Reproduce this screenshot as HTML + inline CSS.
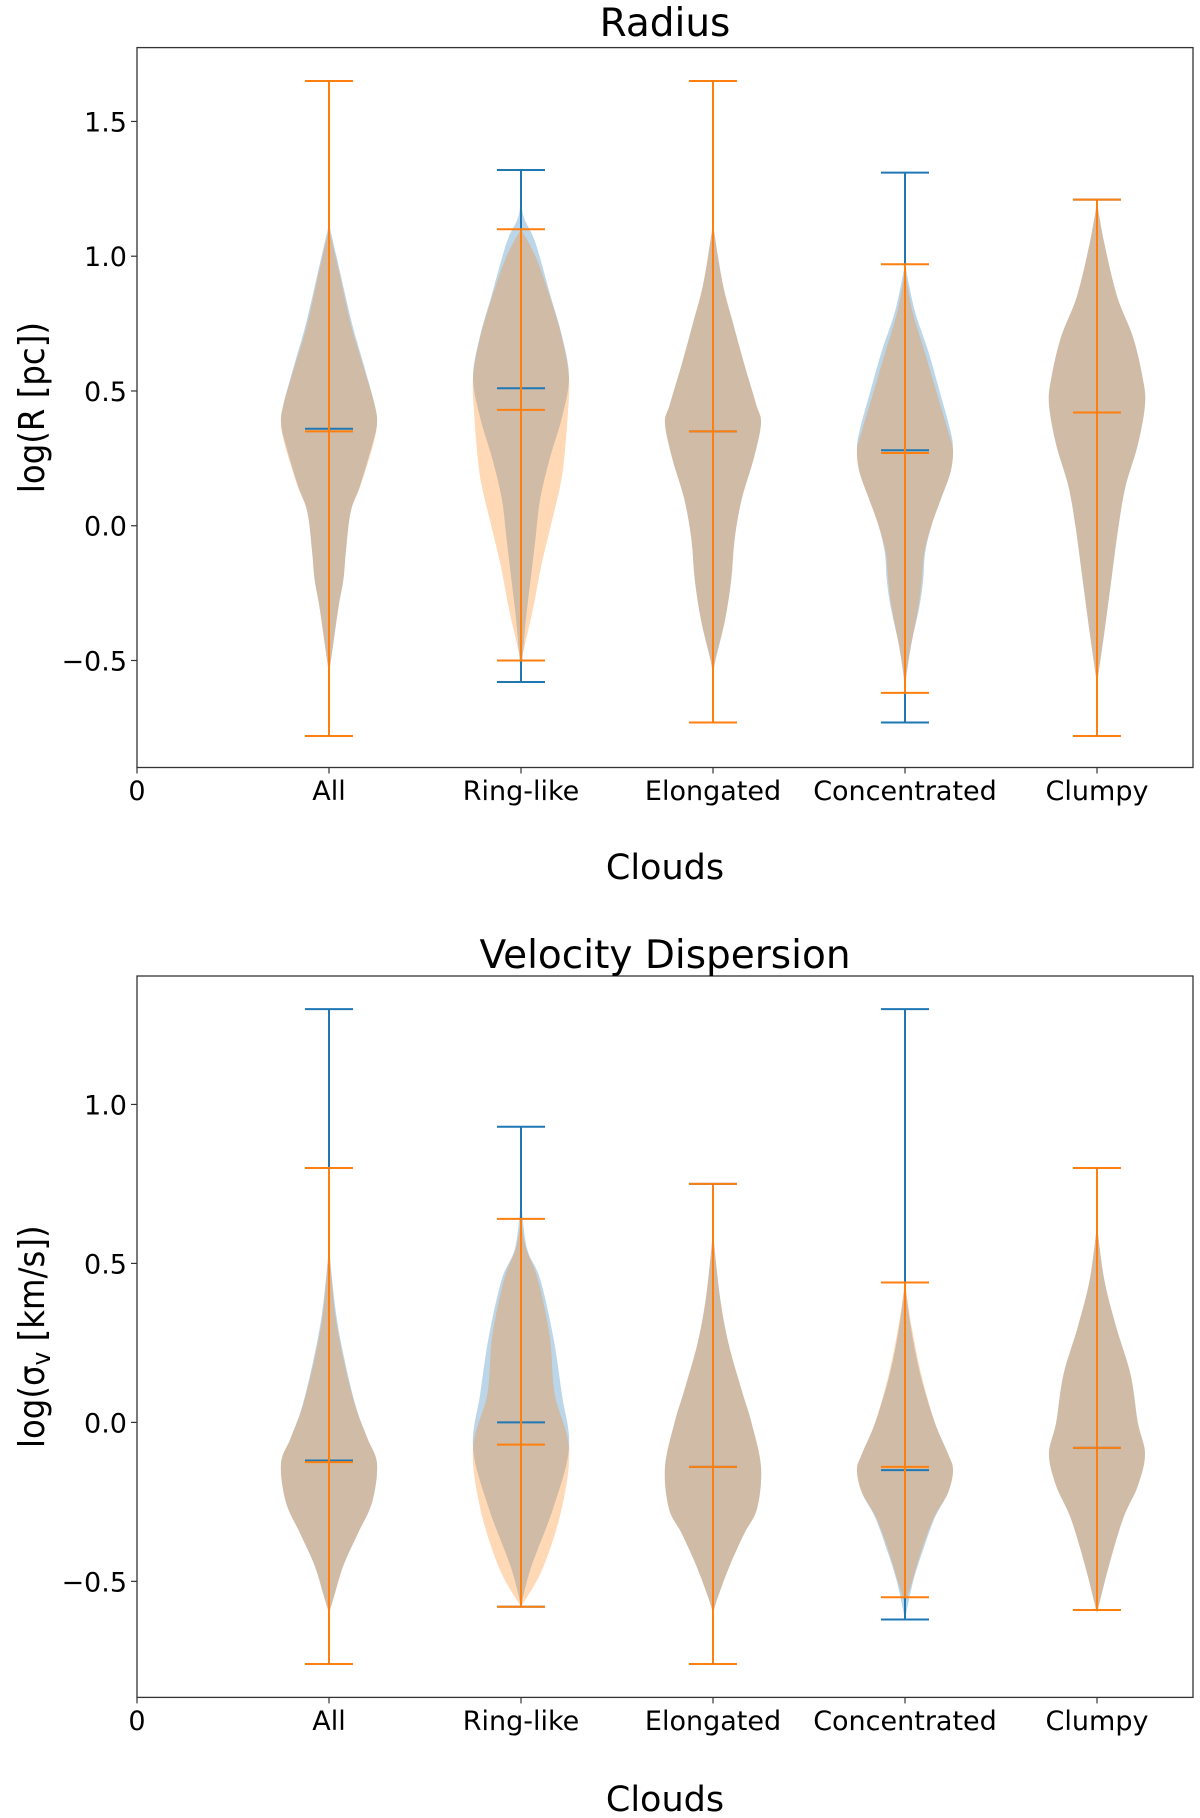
<!DOCTYPE html>
<html><head><meta charset="utf-8"><style>
html,body{margin:0;padding:0;background:#fff;}
svg{display:block;font-family:"DejaVu Sans","Liberation Sans",sans-serif;}
.cond{font-family:"DejaVu Sans Condensed","DejaVu Sans","Liberation Sans Narrow",sans-serif;font-stretch:condensed;}
</style></head><body>
<svg id="fig" width="1200" height="1818" viewBox="0 0 1200 1818" xmlns="http://www.w3.org/2000/svg"></svg>
<script>
// ---------- data ----------
const categories = ["All","Ring-like","Elongated","Concentrated","Clumpy"];
const xTickLabels = ["0","All","Ring-like","Elongated","Concentrated","Clumpy"];
const radiusYTicks = [-0.5,0.0,0.5,1.0,1.5];
const sigmaYTicks = [-0.5,0.0,0.5,1.0];

// Radius: min / max / mean per category
const rBlueMin  = [-0.78,-0.58,-0.73,-0.73,-0.78];
const rBlueMax  = [1.65,1.32,1.65,1.31,1.21];
const rBlueMean = [0.36,0.51,0.35,0.28,0.42];
const rOrangeMin  = [-0.78,-0.50,-0.73,-0.62,-0.78];
const rOrangeMax  = [1.65,1.10,1.65,0.97,1.21];
const rOrangeMean = [0.35,0.43,0.35,0.27,0.42];

// Velocity dispersion
const sBlueMin  = [-0.76,-0.58,-0.76,-0.62,-0.59];
const sBlueMax  = [1.30,0.93,0.75,1.30,0.80];
const sBlueMean = [-0.12,0.00,-0.14,-0.15,-0.08];
const sOrangeMin  = [-0.76,-0.58,-0.76,-0.55,-0.59];
const sOrangeMax  = [0.80,0.64,0.75,0.44,0.80];
const sOrangeMean = [-0.125,-0.07,-0.14,-0.14,-0.08];

// violin density profiles: [value, relative half width]
const rBlueShape = [
 [[1.12,0],[0.95,0.22],[0.75,0.48],[0.6,0.72],[0.45,0.95],[0.38,1],[0.3,0.9],[0.15,0.65],[0.05,0.45],[-0.1,0.35],[-0.2,0.3],[-0.3,0.2],[-0.45,0.08],[-0.55,0]],
 [[1.25,0],[1.15,0.05],[1.05,0.3],[0.85,0.62],[0.7,0.86],[0.55,1],[0.4,0.85],[0.25,0.6],[0.1,0.4],[-0.05,0.3],[-0.2,0.2],[-0.35,0.1],[-0.5,0.03],[-0.55,0]],
 [[1.12,0],[0.9,0.2],[0.75,0.42],[0.6,0.65],[0.45,0.9],[0.38,1],[0.25,0.85],[0.1,0.6],[-0.05,0.45],[-0.2,0.38],[-0.35,0.25],[-0.5,0.05],[-0.56,0]],
 [[0.97,0],[0.8,0.2],[0.65,0.48],[0.5,0.72],[0.35,0.95],[0.28,1],[0.2,0.95],[0.1,0.75],[0.0,0.55],[-0.1,0.42],[-0.2,0.38],[-0.3,0.3],[-0.45,0.12],[-0.6,0]],
 [[1.2,0],[1.05,0.15],[0.85,0.42],[0.7,0.75],[0.55,0.95],[0.45,1],[0.3,0.85],[0.15,0.6],[0.0,0.45],[-0.2,0.3],[-0.4,0.15],[-0.55,0.03],[-0.6,0]]
];
const rOrangeShape = [
 [[1.1,0],[0.95,0.2],[0.75,0.45],[0.6,0.7],[0.45,0.95],[0.38,1],[0.3,0.92],[0.15,0.66],[0.05,0.45],[-0.1,0.35],[-0.2,0.3],[-0.3,0.2],[-0.45,0.08],[-0.55,0]],
 [[1.1,0],[1.0,0.3],[0.85,0.6],[0.7,0.85],[0.55,1],[0.4,0.97],[0.25,0.9],[0.15,0.82],[0.0,0.62],[-0.15,0.42],[-0.3,0.26],[-0.45,0.07],[-0.5,0]],
 [[1.12,0],[0.9,0.2],[0.75,0.42],[0.6,0.65],[0.45,0.9],[0.38,1],[0.25,0.85],[0.1,0.6],[-0.05,0.45],[-0.2,0.38],[-0.35,0.25],[-0.5,0.05],[-0.56,0]],
 [[0.95,0],[0.8,0.15],[0.65,0.4],[0.5,0.65],[0.35,0.9],[0.28,1],[0.2,0.95],[0.1,0.75],[0.0,0.55],[-0.1,0.4],[-0.2,0.35],[-0.3,0.28],[-0.45,0.12],[-0.58,0]],
 [[1.2,0],[1.05,0.15],[0.85,0.42],[0.7,0.75],[0.55,0.95],[0.45,1],[0.3,0.85],[0.15,0.6],[0.0,0.45],[-0.2,0.3],[-0.4,0.15],[-0.55,0.03],[-0.6,0]]
];
const sBlueShape = [
 [[0.55,0],[0.35,0.14],[0.2,0.32],[0.05,0.56],[-0.05,0.8],[-0.13,1],[-0.25,0.9],[-0.35,0.6],[-0.45,0.3],[-0.55,0.1],[-0.6,0]],
 [[0.7,0],[0.55,0.12],[0.45,0.4],[0.27,0.67],[0.09,0.85],[-0.08,1],[-0.27,0.67],[-0.46,0.2],[-0.58,0]],
 [[0.6,0],[0.4,0.14],[0.25,0.32],[0.1,0.6],[0.0,0.8],[-0.14,1],[-0.27,0.92],[-0.35,0.65],[-0.45,0.35],[-0.55,0.1],[-0.6,0]],
 [[0.44,0],[0.3,0.12],[0.15,0.32],[0.0,0.62],[-0.1,0.9],[-0.15,1],[-0.22,0.9],[-0.3,0.62],[-0.4,0.38],[-0.5,0.17],[-0.62,0]],
 [[0.62,0],[0.45,0.15],[0.3,0.4],[0.15,0.7],[0.0,0.85],[-0.1,1],[-0.2,0.85],[-0.3,0.55],[-0.45,0.25],[-0.6,0]]
];
const sOrangeShape = [
 [[0.55,0],[0.35,0.12],[0.2,0.3],[0.05,0.55],[-0.05,0.8],[-0.13,1],[-0.25,0.9],[-0.35,0.6],[-0.45,0.3],[-0.55,0.1],[-0.6,0]],
 [[0.64,0],[0.55,0.1],[0.45,0.35],[0.27,0.6],[0.09,0.7],[-0.08,1],[-0.27,0.85],[-0.46,0.45],[-0.58,0]],
 [[0.6,0],[0.4,0.14],[0.25,0.32],[0.1,0.6],[0.0,0.8],[-0.14,1],[-0.27,0.92],[-0.35,0.65],[-0.45,0.35],[-0.55,0.1],[-0.6,0]],
 [[0.44,0],[0.3,0.14],[0.15,0.34],[0.0,0.62],[-0.1,0.9],[-0.15,1],[-0.22,0.9],[-0.3,0.6],[-0.4,0.35],[-0.5,0.15],[-0.57,0]],
 [[0.62,0],[0.45,0.15],[0.3,0.4],[0.15,0.7],[0.0,0.85],[-0.1,1],[-0.2,0.85],[-0.3,0.55],[-0.45,0.25],[-0.6,0]]
];

// ---------- drawing ----------
const NS="http://www.w3.org/2000/svg";
const svg=document.getElementById('fig');
const BLUE="#1f77b4", ORANGE="#ff7f0e";
function mk(tag,attrs,parent){const e=document.createElementNS(NS,tag);for(const k in attrs)e.setAttribute(k,attrs[k]);(parent||svg).appendChild(e);return e;}

function smoothPath(pts){
  let d="M"+pts[0][0].toFixed(2)+","+pts[0][1].toFixed(2);
  for(let i=0;i<pts.length-1;i++){
    const p0=pts[Math.max(0,i-1)],p1=pts[i],p2=pts[i+1],p3=pts[Math.min(pts.length-1,i+2)];
    const c1=[p1[0]+(p2[0]-p0[0])/6,p1[1]+(p2[1]-p0[1])/6];
    const c2=[p2[0]-(p3[0]-p1[0])/6,p2[1]-(p3[1]-p1[1])/6];
    d+="C"+c1[0].toFixed(2)+","+c1[1].toFixed(2)+" "+c2[0].toFixed(2)+","+c2[1].toFixed(2)+" "+p2[0].toFixed(2)+","+p2[1].toFixed(2);
  }
  return d;
}

function panel(cfg){
  const {left,right,top,bottom,ymin,ymax,yTicks,title,titleY,ylabel,xlabY,tickLabY,series,name}=cfg;
  const g=mk('g',{});
  
  
  const xS=v=>left+(v-0)/(5.5-0)*(right-left);
  const yS=v=>bottom-(v-ymin)/(ymax-ymin)*(bottom-top);
  const halfW=(xS(0.25)-xS(0));
  const capW=(xS(0.125)-xS(0));
  series.forEach(s=>{
    s.shape.forEach((shape,i)=>{
      const cx=xS(i+1);
      const rightPts=shape.map(p=>[cx+p[1]*halfW,yS(p[0])]);
      const leftPts=shape.slice().reverse().map(p=>[cx-p[1]*halfW,yS(p[0])]);
      const d=smoothPath(rightPts)+"L"+smoothPath(leftPts).slice(1)+"Z";
      const p=mk('path',{d:d,fill:s.color,'fill-opacity':0.3,stroke:'none'},g);
      
      
    });
  });
  series.forEach(s=>{
    categories.forEach((c,i)=>{
      const cx=xS(i+1);
      const l=mk('line',{x1:cx,x2:cx,y1:yS(s.min[i]),y2:yS(s.max[i]),stroke:s.color,'stroke-width':2},g);
      
      
      [['min',s.min[i]],['max',s.max[i]],['mean',s.mean[i]]].forEach(([k,v])=>{
        const cap=mk('line',{x1:cx-capW,x2:cx+capW,y1:yS(v),y2:yS(v),stroke:s.color,'stroke-width':2},g);
        
        
      });
    });
  });
  const fr=mk('rect',{x:left,y:top,width:right-left,height:bottom-top,fill:'none',stroke:'#333','stroke-width':1.3},g);
  
  
  yTicks.forEach(t=>{
    const y=yS(t);
    mk('line',{x1:left-6,x2:left,y1:y,y2:y,stroke:'#333','stroke-width':1.2},g);
    const tx=mk('text',{x:left-10,y:y+10,'font-size':27,'text-anchor':'end',fill:'#000'},g);
    tx.textContent=(t<0?"\u2212":"")+Math.abs(t).toFixed(1);
    
    
  });
  xTickLabels.forEach((lab,i)=>{
    const x=xS(i);
    mk('line',{x1:x,x2:x,y1:bottom,y2:bottom+6,stroke:'#333','stroke-width':1.2},g);
    const tx=mk('text',{x:x,y:tickLabY,'font-size':27,'text-anchor':'middle',fill:'#000'},g);
    tx.textContent=lab;
    
    
  });
  const tt=mk('text',{x:(left+right)/2,y:titleY,'font-size':39,'text-anchor':'middle',fill:'#000'},g);
  tt.textContent=title;
  
  
  const xl=mk('text',{x:(left+right)/2,y:xlabY,'font-size':35,'text-anchor':'middle',fill:'#000'},g);
  xl.textContent="Clouds";
  
  
  const cy=(top+bottom)/2;
  const yl=mk('text',{x:0,y:0,'font-size':36,'text-anchor':'middle',fill:'#000','class':'cond',transform:'translate(44,'+cy+') rotate(-90)'},g);
  yl.innerHTML=ylabel;
  
  
}

panel({name:'radius-panel',left:137,right:1193,top:47.6,bottom:767.5,ymin:-0.897,ymax:1.774,yTicks:radiusYTicks,
  title:'Radius',titleY:36,ylabel:'log(R [pc])',xlabY:879,tickLabY:800,
  series:[{key:'blue',color:BLUE,min:rBlueMin,max:rBlueMax,mean:rBlueMean,shape:rBlueShape},
          {key:'orange',color:ORANGE,min:rOrangeMin,max:rOrangeMax,mean:rOrangeMean,shape:rOrangeShape}]});
panel({name:'velocity-panel',left:137,right:1193,top:976,bottom:1697.4,ymin:-0.865,ymax:1.404,yTicks:sigmaYTicks,
  title:'Velocity Dispersion',titleY:968,ylabel:'log(σ<tspan font-size="26" dy="6">v</tspan><tspan dy="-6"> [km/s])</tspan>',xlabY:1811,tickLabY:1730,
  series:[{key:'blue',color:BLUE,min:sBlueMin,max:sBlueMax,mean:sBlueMean,shape:sBlueShape},
          {key:'orange',color:ORANGE,min:sOrangeMin,max:sOrangeMax,mean:sOrangeMean,shape:sOrangeShape}]});
</script>
</body></html>
